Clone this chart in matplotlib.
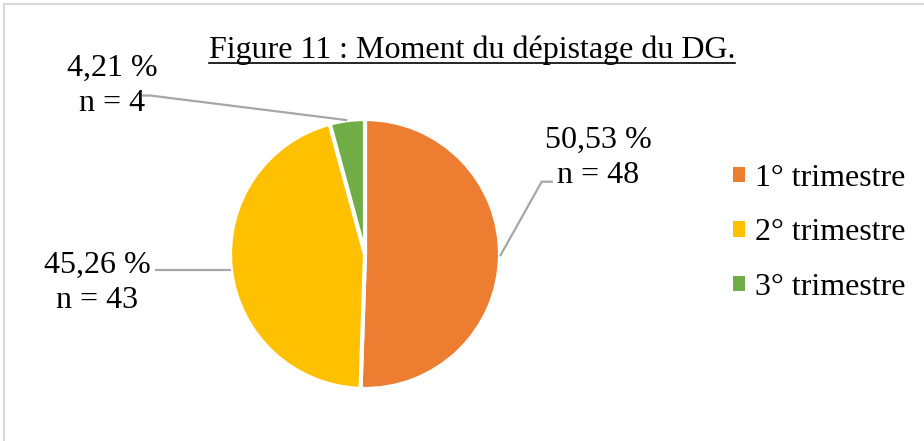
import matplotlib.pyplot as plt
import numpy as np
from matplotlib.patches import Rectangle, Patch

plt.rcParams['font.family'] = ['Liberation Serif', 'DejaVu Serif']

categories = ['1° trimestre', '2° trimestre', '3° trimestre']
counts = [48, 43, 4]
colors = ['#ED7D31', '#FFC000', '#70AD47']
title = 'Figure 11 : Moment du dépistage du DG.'

W, H = 924, 441
fig = plt.figure(figsize=(W / 100, H / 100), dpi=100)
ax = fig.add_axes([0, 0, 1, 1])

# pie in pixel-like coordinates (y measured upwards)
cx, cy, r = 365, H - 254, 135
wedges, _ = ax.pie(counts, colors=colors, startangle=90, counterclock=False,
                   center=(cx, cy), radius=r, frame=True,
                   wedgeprops=dict(edgecolor='white', linewidth=3))
ax.set_xlim(0, W)
ax.set_ylim(0, H)
ax.axis('off')

total = sum(counts)
# label block centres and leader-line paths (bend points), per slice
label_pos = [(598, H - 158), (97, H - 283), (112, H - 86)]
bends = [[(541.7, H - 181.7), (553, H - 181.7)],
         [(155, None)],
         [(150, H - 95.5), (142, H - 95.5)]]

for w, n, pos, bend in zip(wedges, counts, label_pos, bends):
    mid = np.deg2rad((w.theta1 + w.theta2) / 2)
    ex, ey = cx + r * np.cos(mid), cy + r * np.sin(mid)
    xs, ys = [ex], [ey]
    for bx, by in bend:
        xs.append(bx)
        ys.append(ey if by is None else by)
    ax.plot(xs, ys, color='#A6A6A6', lw=1.6, solid_capstyle='butt')
    pct = f'{n / total * 100:.2f} %'.replace('.', ',')
    ax.text(pos[0], pos[1], f'{pct}\nn = {n}', ha='center', va='center',
            fontsize=23, linespacing=1.3, color='black')

# title with underline
t = ax.text(472, H - 58, title, ha='center', va='baseline', fontsize=23)
fig.canvas.draw()
bb = t.get_window_extent().transformed(ax.transData.inverted())
ax.plot([bb.x0, bb.x1], [H - 63, H - 63], color='black', lw=1.2)

handles = [Patch(facecolor=c, edgecolor='none') for c in colors]
ax.legend(handles, categories, loc='center left',
          bbox_to_anchor=(733 / W, 1 - 233 / H), bbox_transform=fig.transFigure,
          frameon=False, fontsize=23, handlelength=0.375, handleheight=0.375,
          handletextpad=0.3, labelspacing=0.8, borderpad=0, borderaxespad=0)

# chart border (only top and left are visible in the crop)
ax.add_patch(Rectangle((4, -50), 2000, H - 4 + 50, fill=False,
                       edgecolor='#D9D9D9', lw=1.5, clip_on=False))

fig.savefig('out.png', dpi=100)
